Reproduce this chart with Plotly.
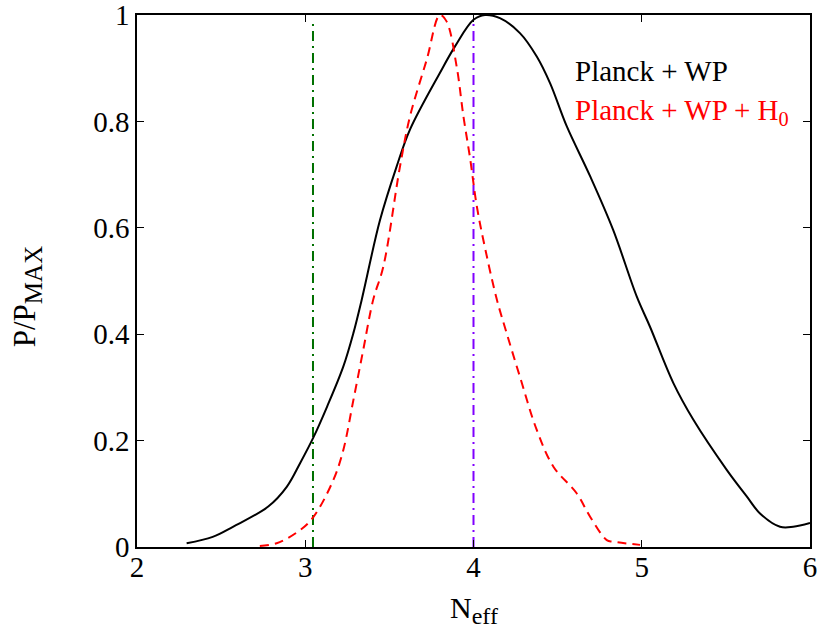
import plotly.graph_objects as go

# Planck + WP (black solid)
pw_x = [2.295, 2.45, 2.57, 2.78, 2.89, 2.97, 3.05, 3.13, 3.226, 3.286, 3.335, 3.444, 3.543,
        3.623, 3.80, 3.89, 4.0, 4.068, 4.157, 4.276, 4.376, 4.455, 4.554, 4.693, 4.83, 4.97,
        5.049, 5.188, 5.307, 5.505, 5.624, 5.703, 5.822, 5.90, 6.0]
pw_y = [0.007, 0.019, 0.038, 0.076, 0.113, 0.158, 0.207, 0.264, 0.339, 0.402, 0.464, 0.614, 0.715,
        0.785, 0.891, 0.941, 0.991, 1.0, 0.994, 0.966, 0.922, 0.872, 0.791, 0.697, 0.596, 0.471,
        0.414, 0.308, 0.239, 0.145, 0.095, 0.063, 0.038, 0.038, 0.045]

# Planck + WP + H0 (red dashed)
pwh_x = [2.73, 2.83, 2.97, 3.05, 3.167, 3.226, 3.286, 3.345, 3.404, 3.464, 3.563, 3.623, 3.722,
         3.80, 3.84, 3.90, 3.94, 3.98, 4.02, 4.07, 4.138, 4.197, 4.276, 4.376, 4.475, 4.613,
         4.693, 4.792, 4.83, 4.99]
pwh_y = [0.002, 0.007, 0.032, 0.057, 0.126, 0.182, 0.276, 0.371, 0.465, 0.527, 0.715, 0.81, 0.916,
         1.0, 0.988, 0.903, 0.81, 0.73, 0.64, 0.56, 0.466, 0.402, 0.32, 0.22, 0.151, 0.101,
         0.057, 0.013, 0.01, 0.004]

# reference vertical lines
green_x = 3.046
purple_x = 4.0

x_ticks = [2, 3, 4, 5, 6]
y_ticks = [0, 0.2, 0.4, 0.6, 0.8, 1]
y_tick_text = ["0", "0.2", "0.4", "0.6", "0.8", "1"]

FONT = "'Liberation Serif', 'Times New Roman', 'DejaVu Serif', serif"
FS = 29

fig = go.Figure()
fig.add_trace(go.Scatter(x=[green_x, green_x], y=[0, 0.99], mode="lines",
                         line=dict(color="#007000", width=2, dash="10px,5px,2px,5px"),
                         showlegend=False))
fig.add_trace(go.Scatter(x=[purple_x, purple_x], y=[0, 0.99], mode="lines",
                         line=dict(color="#8000FF", width=2, dash="10px,5px,2px,5px"),
                         showlegend=False))
fig.add_trace(go.Scatter(x=pw_x, y=pw_y, mode="lines", line=dict(color="black", width=2),
                         line_shape="spline", showlegend=False))
fig.add_trace(go.Scatter(x=pwh_x, y=pwh_y, mode="lines",
                         line=dict(color="#FF0000", width=2, dash="9px,6px"),
                         line_shape="spline", showlegend=False))

axis_common = dict(showgrid=False, zeroline=False, showline=True, linecolor="black", linewidth=1.5,
                   mirror="allticks", ticks="inside", ticklen=7, tickcolor="black", tickwidth=1,
                   automargin=False, ticklabeloverflow="allow",
                   tickfont=dict(family=FONT, size=FS, color="black"))
fig.update_xaxes(range=[2, 6], tickvals=x_ticks, ticktext=[str(v) for v in x_ticks],
                 ticklabelstandoff=-7, **axis_common)
fig.update_yaxes(range=[0, 1], tickvals=y_ticks, ticktext=y_tick_text, **axis_common)

fig.add_annotation(x=4.59, y=0.895, xref="x", yref="y", text="Planck + WP", showarrow=False,
                   xanchor="left", yanchor="middle", font=dict(family=FONT, size=FS, color="black"))
fig.add_annotation(x=4.59, y=0.818, xref="x", yref="y", text="Planck + WP + H<sub>0</sub>",
                   showarrow=False, xanchor="left", yanchor="middle",
                   font=dict(family=FONT, size=FS, color="#FF0000"))
fig.add_annotation(x=0.5, y=-0.118, xref="paper", yref="paper",
                   text="N<sub><span style='font-size:24px'>eff</span></sub>",
                   showarrow=False, xanchor="center", yanchor="middle",
                   font=dict(family=FONT, size=30, color="black"))
fig.add_annotation(x=-0.163, y=0.47, xref="paper", yref="paper",
                   text="P/P<sub><span style='font-size:25px'>MAX</span></sub>",
                   showarrow=False, xanchor="center", yanchor="middle", textangle=-90,
                   font=dict(family=FONT, size=31, color="black"))

fig.update_layout(width=817, height=631, margin=dict(l=137, r=7, t=15, b=84, autoexpand=False),
                  font=dict(family=FONT, size=FS, color="black"),
                  paper_bgcolor="white", plot_bgcolor="white", showlegend=False)
fig.write_html("out.html")
